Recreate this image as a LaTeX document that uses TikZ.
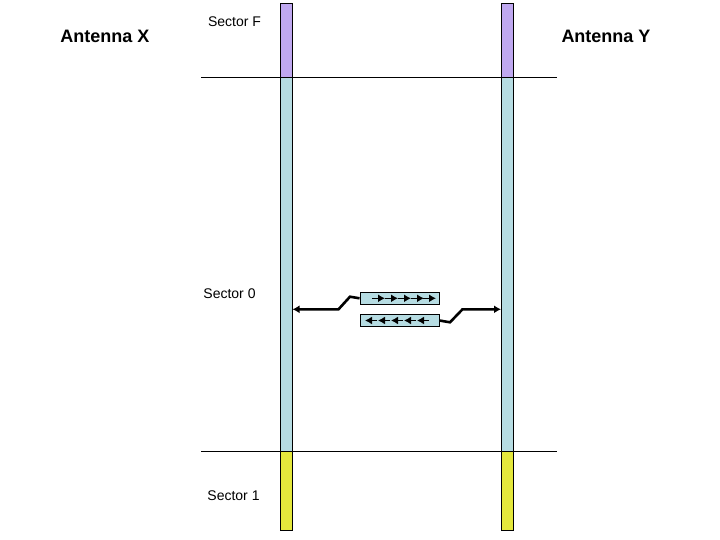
\documentclass[tikz,border=0pt]{standalone}
\usepackage{fontspec}
\setmainfont{Liberation Sans}
\usetikzlibrary{arrows.meta}
\definecolor{purp}{RGB}{191,168,240}
\definecolor{lblue}{RGB}{182,220,226}
\definecolor{yell}{RGB}{228,232,60}
\tikzset{
  bar/.style={draw=black, line width=0.9pt},
  sepline/.style={draw=black, line width=0.9pt},
  antlabel/.style={anchor=base, inner sep=0pt, font=\fontsize{18}{21}\selectfont\bfseries},
  seclabel/.style={anchor=base, inner sep=0pt, font=\fontsize{14}{17}\selectfont},
  pktbox/.style={draw=black, line width=0.9pt, fill=lblue, minimum width=79pt, minimum height=12pt, inner sep=0pt},
  conn/.style={line width=2.6pt, line cap=butt, -{Latex[length=7pt,width=8pt]}},
  small/.style={line width=1.6pt, -{Latex[length=7pt,width=8pt]}}
}
\begin{document}
\begin{tikzpicture}[x=1pt,y=-1pt]
\useasboundingbox (0,0) rectangle (720,540);
% bars
\foreach \xa in {280,501}{
  \filldraw[bar, fill=purp] (\xa,3) rectangle (\xa+12,77);
  \filldraw[bar, fill=lblue] (\xa,77) rectangle (\xa+12,451);
  \filldraw[bar, fill=yell] (\xa,451) rectangle (\xa+12,530);
}
% separator lines
\draw[sepline] (201,77) -- (557,77);
\draw[sepline] (201,451) -- (557,451);
% labels
\node[antlabel] (antx) at (105,42.7) {Antenna X};
\node[antlabel] (anty) at (606,42.5) {Antenna Y};
\node[seclabel] (secf) at (234.5,26.7) {Sector F};
\node[seclabel] (sec0) at (229.5,298.5) {Sector 0};
\node[seclabel] (sec1) at (233.5,500.5) {Sector 1};
% packet boxes
\node[pktbox] (ub) at (399.5,298.3) {};
\node[pktbox] (lb) at (399.5,320.5) {};
\coordinate (lend) at (292.5,309.3);
\coordinate (rend) at (501,309.3);
\draw[conn] (ub.west) -- (350,296.7) -- (338.5,309.3) -- (lend);
\draw[conn] (lb.east) -- (450,322.3) -- (462.5,309.3) -- (rend);
% arrows inside boxes
\foreach \t in {385,398,411,424,436}{
  \draw[small] (\t-13,298.3) -- (\t,298.3);
}
\foreach \t in {365,378,391,404,417}{
  \draw[small] (\t+12,320.5) -- (\t,320.5);
}
\end{tikzpicture}
\end{document}
